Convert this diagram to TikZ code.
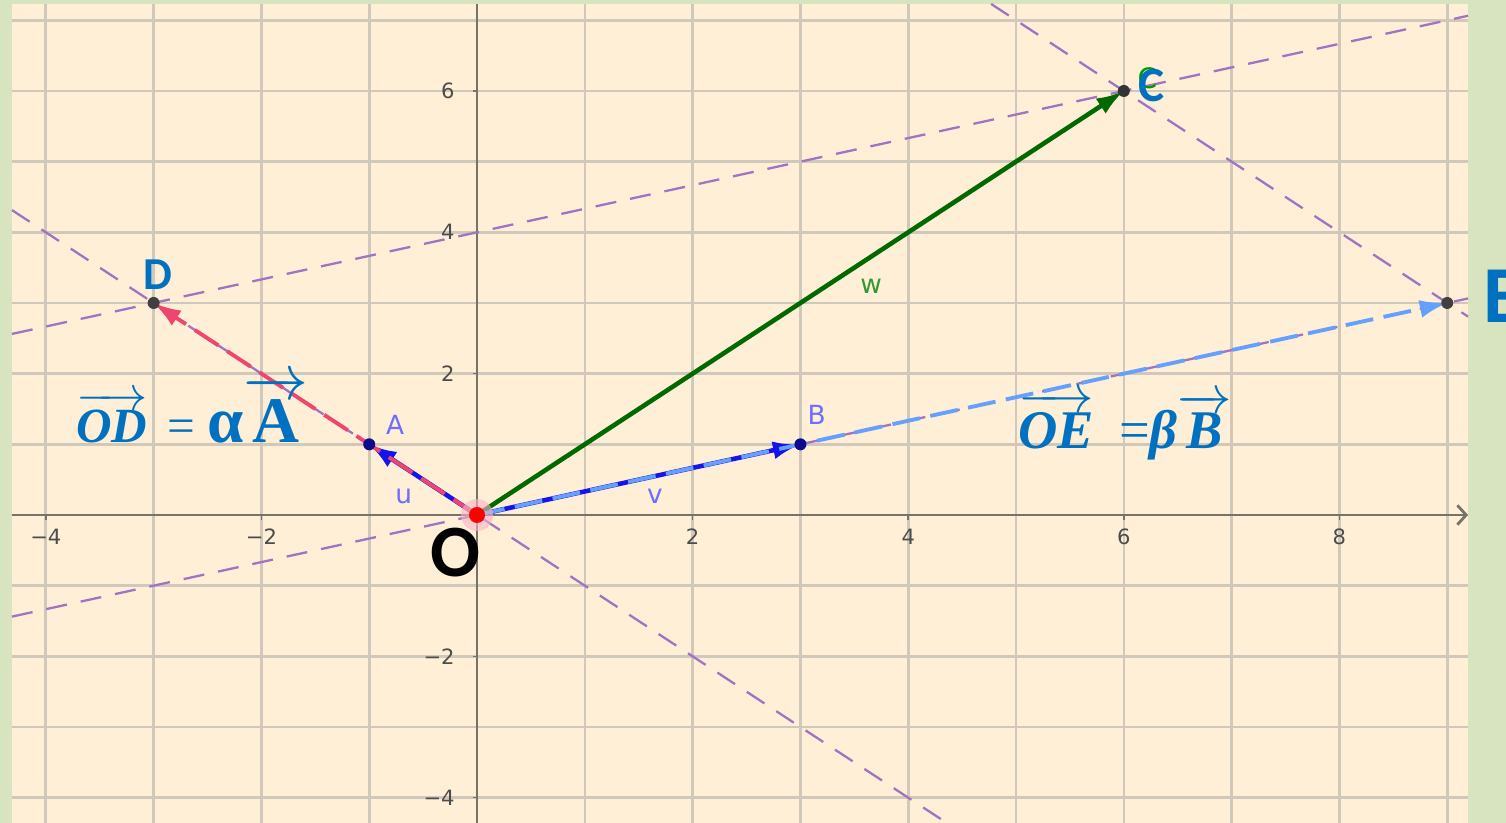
\RequirePackage{fix-cm}
\documentclass[tikz,border=0pt]{standalone}
\usepackage{amsmath}
\usepackage{fontspec}
\newfontfamily\ggbfont{DejaVu Sans}
\newfontfamily\labfont{Carlito}
\newfontfamily\eqfont{Liberation Serif}
\usetikzlibrary{arrows.meta}
\definecolor{bgout}{RGB}{216,228,192}
\definecolor{paper}{RGB}{254,239,214}
\definecolor{gridc}{RGB}{208,200,186}
\definecolor{axisc}{RGB}{120,115,106}
\definecolor{offblue}{RGB}{0,112,192}
\definecolor{ggblue}{RGB}{20,20,235}
\definecolor{lblue}{RGB}{102,160,255}
\definecolor{rose}{RGB}{240,70,110}
\definecolor{ggreen}{RGB}{0,105,0}
\definecolor{lilac}{RGB}{160,115,195}
\definecolor{labblue}{RGB}{110,110,255}
\begin{document}
\begin{tikzpicture}[
        x=2.156cm, y=1.4134cm,
        gridline/.style={gridc, line width=1.5pt},
        axis/.style={axisc, line width=1.6pt},
        ticklab/.style={font=\ggbfont\fontsize{12}{14}\selectfont, text=black!70},
        vec/.style={line width=2.6pt, -{Latex[length=0.55cm,width=0.36cm]}},
        dvec/.style={line width=2.2pt, dash pattern=on 16pt off 6pt, -{Latex[length=0.55cm,width=0.36cm]}},
        guide/.style={lilac, line width=1.3pt, dash pattern=on 12pt off 8pt},
        ggblab/.style={font=\ggbfont\fontsize{15}{17}\selectfont, text=labblue},
        biglab/.style={font=\labfont\bfseries\fontsize{#1}{#1}\selectfont, text=offblue},
        formula/.style={anchor=base west, inner sep=0pt, text=offblue, font=\eqfont\fontsize{#1}{#1}\selectfont}
    ]

    \fill[bgout] (-4.425,-4.358) rectangle (9.545,7.287);
    \useasboundingbox (-4.425,-4.358) rectangle (9.545,7.287);
    \fill[paper] (-4.314,-4.358) rectangle (9.193,7.231);

    \foreach \i in {-4,...,9} \draw[gridline] (\i,-4.358) -- (\i,7.231);
    \foreach \j in {-4,...,7} \draw[gridline] (-4.314,\j) -- (9.193,\j);

    \draw[axis, -{Straight Barb[length=5pt,width=11pt]}] (-4.314,0) -- (9.193,0);
    \draw[axis] (0,-4.358) -- (0,7.231);
    \foreach \i/\t in {-4/−4, -2/−2, 2/2, 4/4, 6/6, 8/8} {
        \draw[axis, line width=0.9pt] (\i,0) -- (\i,-0.07);
        \node[ticklab] (xt\i) at (\i,-0.31) {\t};
    }
    \foreach \j/\t in {6/6, 4/4, 2/2, -2/−2, -4/−4} {
        \draw[axis, line width=0.9pt] (0,\j) -- (-0.04,\j);
        \node[ticklab, anchor=east] (yt\j) at (-0.15,\j) {\t};
    }

    \coordinate (O) at (0,0);
    \coordinate (A) at (-1,1);
    \coordinate (B) at (3,1);
    \coordinate (C) at (6,6);
    \coordinate (D) at (-3,3);
    \coordinate (E) at (9,3);

    \coordinate (g1a) at (-4.314,-1.438);
    \coordinate (g1b) at (9.193,3.064);
    \coordinate (g2a) at (-4.314,2.562);
    \coordinate (g2b) at (9.193,7.064);
    \coordinate (g3a) at (-4.314,4.314);
    \coordinate (g3b) at (4.358,-4.358);
    \coordinate (g4a) at (4.769,7.231);
    \coordinate (g4b) at (9.193,2.807);

    \draw[guide] (g1a) -- (g1b);
    \draw[guide] (g2a) -- (g2b);
    \draw[guide] (g3a) -- (g3b);
    \draw[guide] (g4a) -- (g4b);

    \draw[vec, ggblue] (O) -- (A);
    \draw[vec, ggblue] (O) -- (B);
    \draw[vec, ggreen] (O) -- (C);
    \draw[dvec, rose] (O) -- (D);
    \draw[dvec, lblue] (O) -- (E);

    \fill[rose!40, opacity=0.6] (O) circle (0.32cm);
    \fill[red] (O) circle (0.16cm);
    \fill[ggblue!60!black] (A) circle (0.12cm);
    \fill[ggblue!60!black] (B) circle (0.12cm);
    \fill[black!80] (C) circle (0.12cm);
    \fill[black!75] (D) circle (0.12cm);
    \fill[black!75] (E) circle (0.12cm);

    \node[ggblab] (lA) at (-0.76,1.27) {A};
    \node[ggblab] (lB) at (3.15,1.415) {B};
    \node[ggblab] (lu) at (-0.68,0.27) {u};
    \node[ggblab] (lv) at (1.65,0.27) {v};
    \node[ggblab, text=green!50!black!80] (lw) at (3.655,3.24) {w};
    \node[ggblab, text=green!60!black, font=\ggbfont\fontsize{16}{18}\selectfont] (lC) at (6.22,6.18) {C};

    \node[biglab=26] (tD) at (-2.96,3.40) {D};
    \node[biglab=28] (tC) at (6.26,6.07) {C};
    \node[biglab=46, anchor=west, inner sep=0pt] (tE) at (9.33,3.10) {E};
    \node[biglab=42, text=black] (tO) at (-0.204,-0.538) {O};

    \node[formula=28] (fD) at (-3.72,1.02)
        {$\overrightarrow{\hbox{\bfseries\itshape OD}}$\hspace{0.4cm}=\hspace{0.25cm}{\fontsize{37}{40}\selectfont\bfseries α$\overrightarrow{\hbox{A}}$}};
    \node[formula=31] (fE) at (5.02,0.934)
        {$\overrightarrow{\hbox{\bfseries\itshape OE}}$\hspace{0.5cm}={\bfseries\itshape β$\overrightarrow{\hbox{B}}$}};

\end{tikzpicture}
\end{document}
